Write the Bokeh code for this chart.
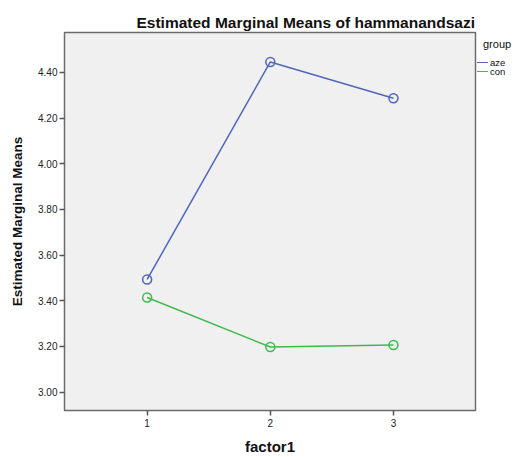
from bokeh.plotting import figure
from bokeh.models import FixedTicker, ColumnDataSource, Div
from bokeh.layouts import row
from bokeh.embed import file_html
from bokeh.resources import INLINE

factor1 = [1, 2, 3]
aze = [3.493, 4.446, 4.287]
con = [3.414, 3.197, 3.206]
y_ticks = [3.0, 3.2, 3.4, 3.6, 3.8, 4.0, 4.2, 4.4]
group_names = ["aze", "con"]
colors = ["#5066bd", "#3dbb4c"]

p = figure(width=477, height=457, output_backend="svg", toolbar_location=None,
           x_range=(0.329, 3.666), y_range=(2.919, 4.575),
           min_border_left=64, min_border_top=32, min_border_right=2, min_border_bottom=44,
           title="Estimated Marginal Means of hammanandsazi")
p.background_fill_color = "#f0f0f0"
p.border_fill_color = "white"
p.outline_line_color = "#6b6b6b"
p.outline_line_width = 1.5
p.grid.visible = False

p.title.text_font = "Liberation Sans"
p.title.text_font_size = "15.5px"
p.title.text_font_style = "bold"
p.title.text_color = "#111111"
p.title.align = "left"
p.title.offset = 72
p.title.standoff = 3

for ax in (p.xaxis[0], p.yaxis[0]):
    ax.axis_line_color = None
    ax.major_tick_out = 5
    ax.major_tick_in = 0
    ax.minor_tick_line_color = None
    ax.major_tick_line_color = "#555555"
    ax.major_tick_line_width = 1.5
    ax.major_label_text_font = "Liberation Sans"
    ax.major_label_text_font_size = "10px"
    ax.major_label_text_color = "#222222"
    ax.major_label_standoff = 2
    ax.axis_label_text_font = "Liberation Sans"
    ax.axis_label_text_font_style = "bold"
    ax.axis_label_text_color = "#111111"

p.xaxis.major_label_standoff = 3
p.xaxis.axis_label = "factor1"
p.xaxis.axis_label_text_font_size = "15px"
p.xaxis.axis_label_standoff = 8
p.yaxis.axis_label = "Estimated Marginal Means"
p.yaxis.axis_label_text_font_size = "13.5px"
p.yaxis.axis_label_standoff = 10

p.xaxis.ticker = FixedTicker(ticks=factor1)
p.xaxis.major_label_overrides = {v: str(v) for v in factor1}
p.yaxis.ticker = FixedTicker(ticks=y_ticks)
p.yaxis.major_label_overrides = {v: f"{v:.2f}" for v in y_ticks}

for name, vals, c in zip(group_names, [aze, con], colors):
    src = ColumnDataSource(dict(x=factor1, y=vals))
    p.line("x", "y", source=src, line_color=c, line_width=1.5)
    p.scatter("x", "y", source=src, marker="circle", size=9, fill_color=None,
              line_color=c, line_width=1.5)

# legend to the right of the frame, as positioned HTML
font = "font-family:'Liberation Sans', Arial, sans-serif;color:#111111;white-space:nowrap;"
html = ('<div style="position:relative;width:41px;height:457px;margin:0;padding:0;overflow:hidden;">'
        f'<div style="position:absolute;left:6px;top:38px;font-size:11px;line-height:13px;{font}">group</div>')
row_y = [62.7, 71.7]
for name, c, cy in zip(group_names, colors, row_y):
    html += (f'<div style="position:absolute;left:0px;top:{cy - 0.75:.2f}px;width:11px;height:0;'
             f'border-top:1.5px solid {c};"></div>')
    html += (f'<div style="position:absolute;left:13px;top:{cy - 4.5:.2f}px;font-size:9.5px;'
             f'line-height:9px;{font}">{name}</div>')
html += '</div>'
lg = Div(text=html, width=41, height=457, margin=0)

layout = row(p, lg)
open("out.html", "w").write(file_html(layout, INLINE))
